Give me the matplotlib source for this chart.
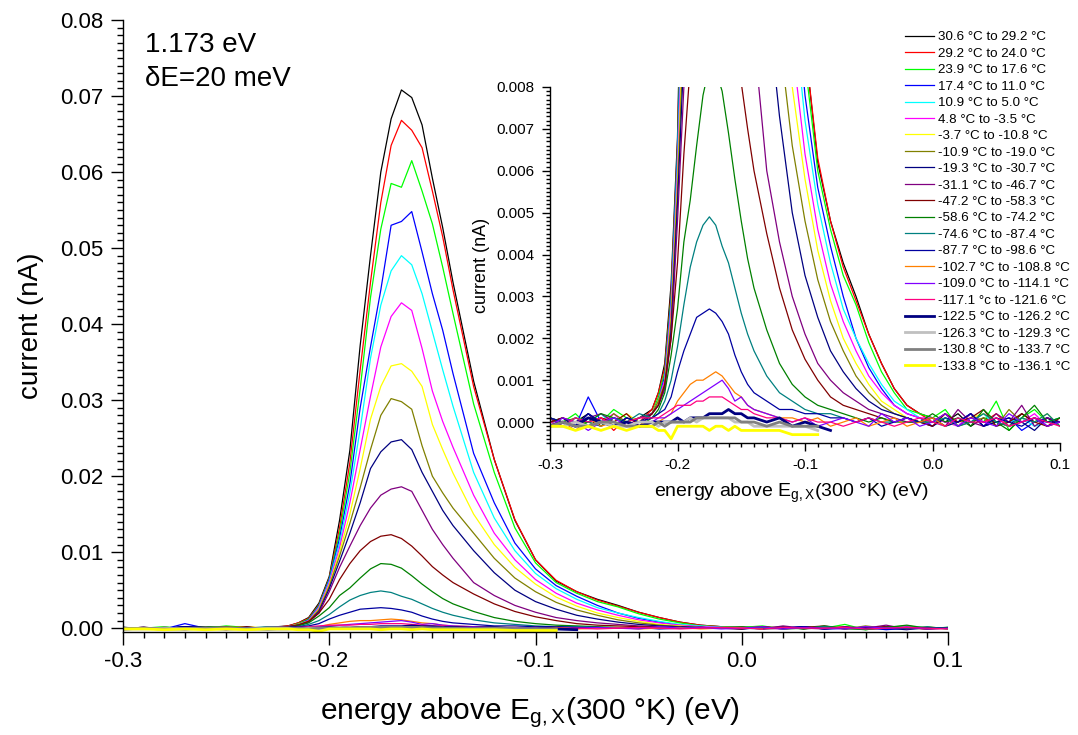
import numpy as np
import matplotlib
matplotlib.use("Agg")
import matplotlib.pyplot as plt
from matplotlib.ticker import MultipleLocator, FormatStrFormatter

plt.rcParams['font.family'] = ['Liberation Sans', 'DejaVu Sans']
plt.rcParams['mathtext.fontset'] = 'custom'
plt.rcParams['mathtext.rm'] = 'Liberation Sans'
plt.rcParams['mathtext.it'] = 'Liberation Sans:italic'
plt.rcParams['axes.unicode_minus'] = False

# energy grid (eV), shared by all spectra
energy = [-0.30, -0.29, -0.28, -0.27, -0.26, -0.25, -0.24, -0.23,
          -0.22, -0.215, -0.21, -0.205, -0.20, -0.195, -0.19, -0.185, -0.18,
          -0.175, -0.17, -0.165, -0.16, -0.155, -0.15, -0.145, -0.14,
          -0.13, -0.12, -0.11, -0.10, -0.09, -0.08, -0.07, -0.06, -0.05,
          -0.04, -0.03, -0.02, -0.01,
          0.00, 0.01, 0.02, 0.03, 0.04, 0.05, 0.06, 0.07, 0.08, 0.09, 0.10]

# photocurrent, in units of 1e-4 nA
c01 = [1, -1, 0, 2, -1, 1, 0, 1,
       3, 7, 14, 33, 68, 142, 234, 372, 490,
       600, 670, 708, 698, 662, 592, 527, 455,
       325, 222, 142, 90, 62, 48, 38, 30, 21, 14, 8, 4, 2,
       1, 0, 2, -1, 1, 0, -1, 2, 0, 1, -1]
c02 = [0, 1, -1, 0, 1, -2, 1, 0,
       3, 7, 13, 31, 66, 132, 218, 340, 455,
       560, 635, 668, 655, 632, 575, 515, 445,
       318, 222, 143, 90, 63, 48, 37, 29, 21, 14, 8, 4, 2,
       0, 2, -1, 1, 0, 2, -1, 0, 1, -1, 0]
c03 = [1, 0, 2, -1, 0, 3, 1, 0,
       2, 6, 12, 30, 65, 125, 205, 315, 435,
       525, 585, 580, 615, 575, 532, 475, 414,
       295, 205, 132, 86, 60, 46, 35, 28, 19, 12, 7, 3, 2,
       1, 3, -1, 2, 0, 5, -2, 1, 3, 0, 1]
c04 = [0, 1, -1, 6, 0, 1, 0, -1,
       2, 5, 11, 29, 64, 118, 190, 290, 370,
       445, 530, 535, 548, 495, 440, 392, 335,
       230, 165, 112, 78, 56, 42, 30, 20, 13, 8, 4, 2, 1,
       -1, 1, 0, 2, -1, 0, 1, -2, 0, 1, 0]
c05 = [0, -1, 1, 0, 2, -1, 0, 1,
       2, 5, 10, 28, 62, 112, 178, 262, 355,
       425, 470, 490, 478, 440, 390, 340, 292,
       205, 145, 102, 72, 52, 38, 27, 20, 14, 9, 5, 3, 1,
       0, -1, 1, 0, 2, -1, 0, 1, -1, 0, 1]
c06 = [1, 0, -1, 1, 0, 2, -1, 0,
       2, 5, 10, 27, 60, 106, 165, 235, 305,
       370, 410, 428, 418, 368, 312, 272, 238,
       175, 125, 90, 64, 46, 33, 24, 17, 11, 7, 4, 2, 1,
       1, 0, -1, 2, 0, 1, -1, 0, 2, -1, 0]
c07 = [0, 1, 0, -1, 1, 0, 2, 0,
       2, 5, 9, 25, 57, 100, 150, 210, 275,
       318, 345, 348, 338, 318, 268, 235, 204,
       150, 110, 80, 58, 41, 29, 20, 14, 9, 5, 3, 1, 0,
       1, -1, 0, 1, 2, 0, -1, 1, 0, 2, -1]
c08 = [-1, 0, 1, 0, -1, 2, 0, 1,
       2, 5, 9, 24, 55, 95, 138, 185, 235,
       280, 302, 298, 288, 240, 200, 178, 158,
       125, 92, 66, 48, 34, 24, 17, 11, 7, 4, 2, 1, 0,
       0, 2, -1, 0, 1, -1, 3, 0, 1, -1, 0]
c09 = [0, 1, -1, 2, 0, -1, 1, 0,
       2, 4, 8, 22, 52, 88, 125, 165, 210,
       232, 245, 248, 235, 205, 180, 155, 135,
       102, 73, 50, 35, 25, 17, 12, 8, 5, 3, 2, 1, 0,
       -1, 1, 0, 2, -1, 0, 1, 0, -2, 1, 0]
c10 = [1, -1, 0, 1, 2, 0, -1, 1,
       2, 4, 8, 20, 48, 80, 108, 135, 158,
       175, 183, 186, 180, 155, 130, 110, 92,
       60, 43, 30, 21, 14, 10, 7, 5, 3, 2, 1, 0, 0,
       1, -1, 3, 0, -1, 2, 0, 4, -1, 1, 0]
c11 = [0, 1, 0, -1, 1, 0, 2, -1,
       2, 4, 9, 20, 38, 64, 85, 102, 114,
       121, 123, 118, 108, 95, 81, 70, 60,
       45, 32, 22, 15, 10, 6, 4, 3, 2, 1, 0, 1, 0,
       -1, 2, 0, 1, 3, -1, 0, 2, 0, -1, 1]
c12 = [1, 0, -1, 0, 2, 1, 0, -1,
       1, 3, 7, 16, 27, 43, 53, 66, 78,
       85, 84, 79, 69, 58, 48, 39, 32,
       22, 14, 9, 6, 4, 3, 2, 1, 0, 1, 0, 0, 0,
       2, 0, 1, -1, 3, 0, -2, 1, 4, 0, 1]
c13 = [0, -1, 1, 0, -1, 1, 0, 2,
       1, 2, 5, 10, 18, 28, 37, 43, 47,
       49, 47, 42, 38, 32, 26, 21, 17,
       11, 7, 5, 3, 2, 2, 1, 0, 1, 0, 0, 1, 0,
       0, 1, -1, 0, 2, 0, -1, 1, 0, 2, -1]
c14 = [1, 0, -1, 2, 0, -1, 1, 0,
       1, 2, 3, 6, 12, 17, 21, 25, 26,
       27, 26, 24, 21, 16, 12, 9, 7,
       5, 3, 3, 2, 2, 1, 1, 0, 1, -1, 0, 1, 0,
       1, -1, 0, 2, -1, 1, 0, -1, 1, 0, 0]
c15 = [-1, 0, -2, 1, -1, 0, -1, 0,
       -1, 0, 1, 2, 5, 7, 9, 10, 10,
       11, 12, 11, 9, 7, 6, 4, 3,
       2, 1, 1, 0, 1, -1, 0, 1, -1, 0, 1, -1, 0,
       1, -1]
c16 = [-1, 1, 0, -2, 0, 1, -1, 0,
       0, 1, 1, 2, 3, 4, 5, 6, 7,
       8, 9, 10, 8, 5, 6, 4, 3,
       2, 1, 0, 1, -1, 0, 1, 0, -1, 2, 0, 1, -1,
       0, 2, -1, 1, 0, -1, 2, 0, 1, -1, 0]
c17 = [0, -1, 1, 0, 1, -1, 0, 1,
       1, 1, 2, 3, 4, 4, 4, 5, 5,
       6, 6, 6, 5, 4, 3, 3, 2,
       1, 1, 0, 1, 0, 0, -1, 0, 1, 0, -1, 0, 1,
       0, -1, 1, 0, 0, 1, -1, 0, 1, 0, -1]
c18 = [-1, 0, -1, 1, 0, -1, 0, -1,
       0, 0, 0, 0, 1, 0, 1, 1, 1,
       2, 2, 2, 3, 2, 2, 1, 1,
       0, 1, -1, 0, -1, -2]
c19 = [-1, -1, 0, -1, 0, -1, -1, 0,
       0, -1, 0, 0, 0, 0, 1, 0, 1,
       1, 1, 1, 1, 0, 0, 0, -1,
       -1, -1, -1, -1, -2]
c20 = [-1, 0, -1, -1, 0, 0, -1, -1,
       -1, 0, -1, 0, 0, 0, 0, 1, 1,
       1, 1, 1, 1, 1, 0, 0, 0,
       -1, 0, -1, -1, -1]
c21 = [-1, -1, -2, -1, -2, -1, -2, -1,
       -1, -2, -2, -4, -1, -1, -1, -1, -1,
       -2, -1, -1, -2, -1, -2, -2, -2,
       -2, -2, -3, -3, -3]

spectra = [c01, c02, c03, c04, c05, c06, c07, c08, c09, c10, c11,
           c12, c13, c14, c15, c16, c17, c18, c19, c20, c21]

labels = ["30.6 °C to 29.2 °C", "29.2 °C to 24.0 °C", "23.9 °C to 17.6 °C",
          "17.4 °C to 11.0 °C", "10.9 °C to 5.0 °C", "4.8 °C to -3.5 °C",
          "-3.7 °C to -10.8 °C", "-10.9 °C to -19.0 °C", "-19.3 °C to -30.7 °C",
          "-31.1 °C to -46.7 °C", "-47.2 °C to -58.3 °C", "-58.6 °C to -74.2 °C",
          "-74.6 °C to -87.4 °C", "-87.7 °C to -98.6 °C", "-102.7 °C to -108.8 °C",
          "-109.0 °C to -114.1 °C", "-117.1 °c to -121.6 °C", "-122.5 °C to -126.2 °C",
          "-126.3 °C to -129.3 °C", "-130.8 °C to -133.7 °C", "-133.8 °C to -136.1 °C"]

colors = ['#000000', '#ff0000', '#00ff00', '#0000ff', '#00ffff', '#ff00ff',
          '#ffff00', '#808000', '#000080', '#800080', '#800000', '#008000',
          '#008080', '#0000a0', '#ff8000', '#8000ff', '#ff0080', '#000080',
          '#c0c0c0', '#808080', '#ffff00']
widths = [0.9] * 17 + [2.0] * 4

W, H = 1078, 735
fig = plt.figure(figsize=(W / 100, H / 100), dpi=100)


def box(l, t, r, b):
    return [l / W, (H - b) / H, (r - l) / W, (b - t) / H]


def style(ax, ymaj, ymin, fmt, fs, big, small):
    for s in ('top', 'right'):
        ax.spines[s].set_visible(False)
    for s in ('left', 'bottom'):
        ax.spines[s].set_linewidth(1.0)
    ax.set_xlim(-0.3, 0.1)
    ax.xaxis.set_major_locator(MultipleLocator(0.1))
    ax.xaxis.set_minor_locator(MultipleLocator(0.01))
    ax.yaxis.set_major_locator(MultipleLocator(ymaj))
    ax.yaxis.set_minor_locator(MultipleLocator(ymin))
    ax.xaxis.set_major_formatter(FormatStrFormatter('%.1f'))
    ax.yaxis.set_major_formatter(FormatStrFormatter(fmt))
    ax.tick_params(which='both', direction='out', width=1.0, labelsize=fs)
    ax.tick_params(which='major', length=big, pad=5)
    ax.tick_params(which='minor', length=small)


# main plot
ax = fig.add_axes(box(123, 20, 948, 632))
lines = []
for y, c, w, lab in zip(spectra, colors, widths, labels):
    ln, = ax.plot(energy[:len(y)], np.array(y) * 1e-4, color=c, lw=w, label=lab)
    lines.append(ln)
ax.set_ylim(-0.0005, 0.08)
style(ax, 0.01, 0.001, '%.2f', 16, 9, 4.5)
xlab = 'energy above E$_{\\mathrm{g,X}}$(300 °K) (eV)'
ax.set_xlabel(xlab, fontsize=21.5)
ax.xaxis.set_label_coords(0.493, -0.103)
ax.set_ylabel('current (nA)', fontsize=20)
ax.yaxis.set_label_coords(-0.096, 0.5)
ax.text(0.027, 0.959, '1.173 eV', transform=ax.transAxes, fontsize=20, va='center')
ax.text(0.027, 0.904, 'δE=20 meV', transform=ax.transAxes, fontsize=20, va='center')

# zoomed inset
ins = fig.add_axes(box(550, 87, 1060, 443))
ins.set_facecolor('none')
for y, c, w in zip(spectra, colors, widths):
    ins.plot(energy[:len(y)], np.array(y) * 1e-4, color=c, lw=w)
ins.set_ylim(-0.0005, 0.008)
style(ins, 0.001, 0.0001, '%.3f', 11, 6, 3)
ins.set_xlabel(xlab, fontsize=14)
ins.xaxis.set_label_coords(0.4725, -0.108)
ins.set_ylabel('current (nA)', fontsize=13)
ins.yaxis.set_label_coords(-0.118, 0.5)

fig.legend(handles=lines, loc='upper left', bbox_to_anchor=(905 / W, (H - 31) / H),
           frameon=False, fontsize=9.6, handlelength=2.2, handletextpad=0.25,
           labelspacing=0.31, borderpad=0, borderaxespad=0)

fig.savefig('out.png', dpi=100)
